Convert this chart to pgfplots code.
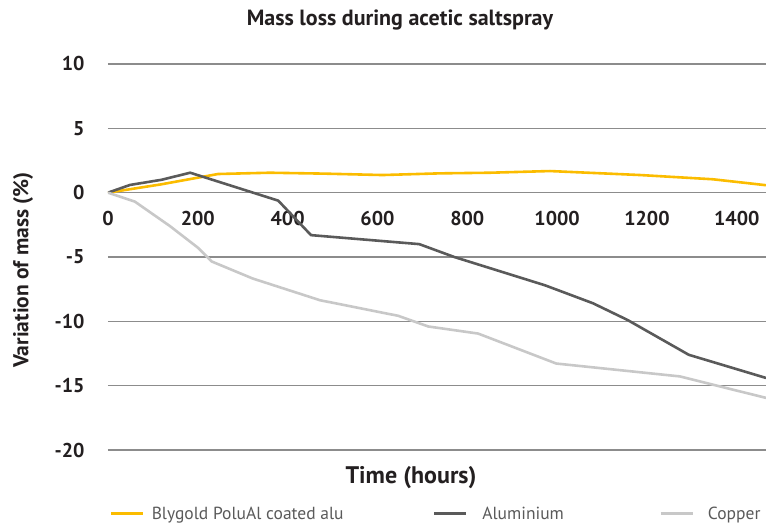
\documentclass[border=0pt]{standalone}
\usepackage{fontspec}
\setmainfont{PT Sans}
\usepackage{pgfplots}
\pgfplotsset{compat=1.18}
\definecolor{cyellow}{RGB}{251,188,0}
\definecolor{cdark}{RGB}{90,90,90}
\definecolor{clight}{RGB}{200,200,200}
\definecolor{cgrid}{RGB}{140,140,140}
\definecolor{ctext}{RGB}{35,31,32}
\begin{document}
\begin{tikzpicture}
\path[use as bounding box] (-108bp,-74bp) rectangle (658bp,450bp);
\begin{axis}[
  scale only axis,
  width=658bp, height=386bp,
  xmin=0, xmax=1465, ymin=-20, ymax=10,
  axis line style={draw=none},
  tick style={draw=none},
  xtick={0,200,400,600,800,1000,1200,1400},
  xticklabels={0,200,400,600,800,1000,1200,1400},
  ytick={-20,-15,-10,-5,0,5,10},
  yticklabels={-20,-15,-10,-5,0,5,10},
  ymajorgrids,
  grid style={cgrid, line width=1.2bp},
  xticklabel style={font=\fontsize{20bp}{23bp}\selectfont\bfseries, text=ctext, yshift=242bp},
  yticklabel style={font=\fontsize{20bp}{23bp}\selectfont\bfseries, text=ctext, xshift=-20bp},
  clip=true,
  legend columns=3,
  legend style={draw=none, fill=none, inner sep=0pt, at={(axis description cs:0.003,-0.165)}, anchor=west,
    font=\fontsize{17.5bp}{20bp}\selectfont, text=cdark,
    /tikz/every even column/.append style={column sep=0bp}},
  legend image code/.code={\draw[#1] (0bp,0bp) -- (32bp,0bp);},
  legend cell align=left,
]
\addplot[cyellow, line width=2.6bp] coordinates {
(0,0) (119,0.65) (182,1.05) (245,1.45) (360,1.55) (480,1.48) (611,1.37) (738,1.5) (851,1.55) (984,1.68) (1185,1.37) (1347,1.04) (1465,0.58)
};
\addlegendentry{\hspace{5bp}\makebox[279bp][l]{Blygold PoluAl coated alu}}
\addplot[cdark, line width=2.6bp] coordinates {
(0,0) (49,0.6) (119,1.0) (183,1.55) (379,-0.62) (452,-3.3) (693,-4.0) (771,-5.0) (973,-7.2) (1080,-8.6) (1157,-9.9) (1293,-12.6) (1465,-14.4)
};
\addlegendentry{\hspace{13bp}\makebox[175bp][l]{Aluminium}}
\addplot[clight, line width=2.6bp] coordinates {
(0,0) (60,-0.7) (138,-2.6) (201,-4.3) (231,-5.35) (322,-6.67) (472,-8.36) (646,-9.57) (713,-10.4) (824,-10.95) (998,-13.28) (1273,-14.28) (1465,-15.95)
};
\addlegendentry{\hspace{12bp}Copper}
\end{axis}
\node[font=\fontsize{22bp}{26bp}\selectfont\bfseries, text=ctext] at (292bp,430bp) {Mass loss during acetic saltspray};
\node[font=\fontsize{24bp}{28bp}\selectfont\bfseries, text=ctext] at (303bp,-28bp) {Time (hours)};
\node[font=\fontsize{21.5bp}{25bp}\selectfont\bfseries, text=ctext, rotate=90] at (-85bp,180bp) {Variation of mass (\%)};
\end{tikzpicture}
\end{document}
